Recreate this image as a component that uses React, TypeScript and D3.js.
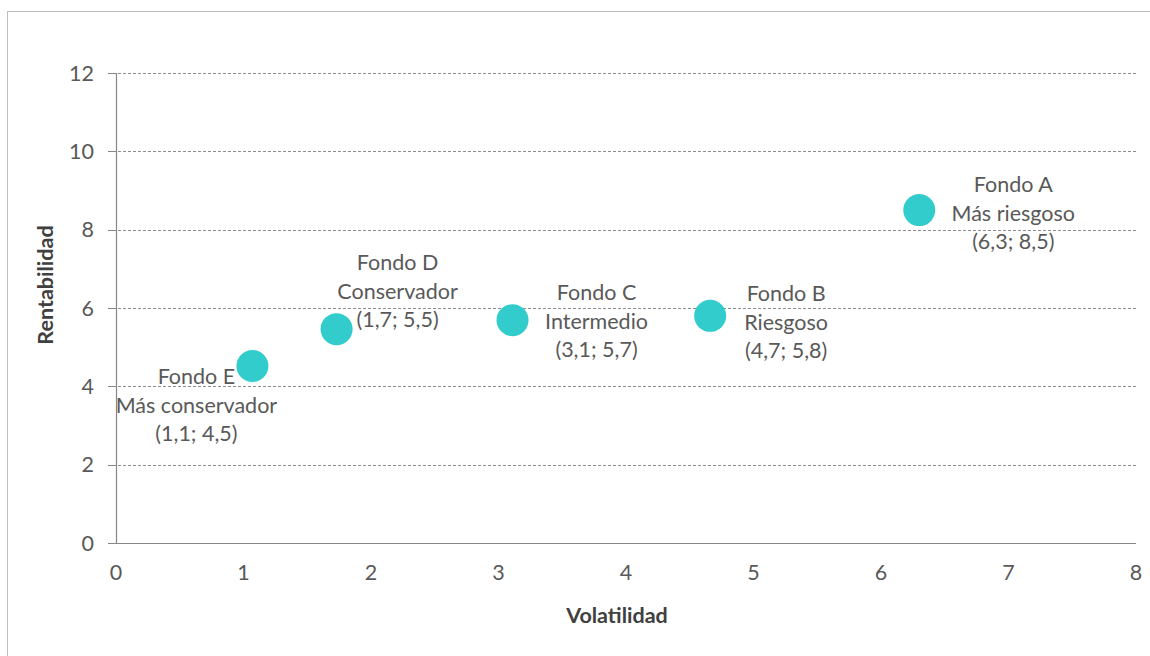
import React from "react";
import * as d3 from "d3";

const fundNames = ["Fondo E", "Fondo D", "Fondo C", "Fondo B", "Fondo A"];
const fundTypes = ["Más conservador", "Conservador", "Intermedio", "Riesgoso", "Más riesgoso"];
const volatility = [1.07, 1.73, 3.11, 4.66, 6.3];
const returns = [4.52, 5.46, 5.69, 5.8, 8.5];
const pointLabels = ["(1,1; 4,5)", "(1,7; 5,5)", "(3,1; 5,7)", "(4,7; 5,8)", "(6,3; 8,5)"];
const xTicks = [0, 1, 2, 3, 4, 5, 6, 7, 8];
const yTicks = [0, 2, 4, 6, 8, 10, 12];

// label offsets (px) from each point to the middle line of its label
const labelDx = [-56, 61, 84, 76, 94];
const labelDy = [39, -38, 1, 6, 3];

const W = 1150;
const H = 656;
const left = 116;
const right = 1136;
const top = 73;
const bottom = 543;
const FONT = "Lato, 'Open Sans', sans-serif";
const TEXT = "#595959";
const FS = 21.5;

export default function App() {
  const x = d3.scaleLinear().domain([0, 8]).range([left, right]);
  const y = d3.scaleLinear().domain([0, 12]).range([bottom, top]);
  const lineH = 28.5;

  return (
    <svg
      width={W}
      height={H}
      style={{ position: "absolute", left: 0, top: 0, background: "#fff" }}
      fontFamily={FONT}
    >
      <rect x={7.5} y={11.5} width={W + 20} height={H + 20} fill="#fff" stroke="#BFBFBF" strokeWidth={1} />
      {yTicks.filter((t) => t > 0).map((t) => (
        <line
          key={"g" + t}
          x1={left - 8}
          x2={right}
          y1={Math.round(y(t)) + 0.5}
          y2={Math.round(y(t)) + 0.5}
          stroke="#8C8C8C"
          strokeWidth={1}
          strokeDasharray="3,2"
        />
      ))}
      {yTicks.map((t) => (
        <line
          key={"yt" + t}
          x1={left - 8}
          x2={left}
          y1={Math.round(y(t)) + 0.5}
          y2={Math.round(y(t)) + 0.5}
          stroke="#868686"
        />
      ))}
      <line x1={left + 0.5} x2={left + 0.5} y1={top} y2={bottom} stroke="#868686" strokeWidth={1.2} />
      <line x1={left - 8} x2={right} y1={bottom + 0.5} y2={bottom + 0.5} stroke="#868686" strokeWidth={1.2} />
      {yTicks.map((t) => (
        <text
          key={"yl" + t}
          x={94}
          y={y(t)}
          dy="0.36em"
          textAnchor="end"
          fontSize={FS}
          fill={TEXT}
        >
          {t}
        </text>
      ))}
      {xTicks.map((t) => (
        <text
          key={"xl" + t}
          x={x(t)}
          y={572}
          dy="0.36em"
          textAnchor="middle"
          fontSize={FS}
          fill={TEXT}
        >
          {t}
        </text>
      ))}
      <text
        x={617}
        y={615}
        dy="0.36em"
        textAnchor="middle"
        fontSize={FS}
        fontWeight="bold"
        fill="#404040"
      >
        Volatilidad
      </text>
      <text
        transform={`translate(45,285) rotate(-90)`}
        dy="0.36em"
        textAnchor="middle"
        fontSize={FS}
        fontWeight="bold"
        fill="#404040"
      >
        Rentabilidad
      </text>
      {volatility.map((v, i) => (
        <circle key={"c" + i} cx={x(v)} cy={y(returns[i])} r={16} fill="#33CCCC" />
      ))}
      {volatility.map((v, i) => {
        const cx = x(v) + labelDx[i];
        const cy = y(returns[i]) + labelDy[i];
        const lines = [fundNames[i], fundTypes[i], pointLabels[i]];
        return (
          <g key={"l" + i}>
            {lines.map((s, j) => (
              <text
                key={j}
                x={cx}
                y={cy + (j - 1) * lineH}
                dy="0.36em"
                textAnchor="middle"
                fontSize={FS}
                fill={TEXT}
              >
                {s}
              </text>
            ))}
          </g>
        );
      })}
    </svg>
  );
}
